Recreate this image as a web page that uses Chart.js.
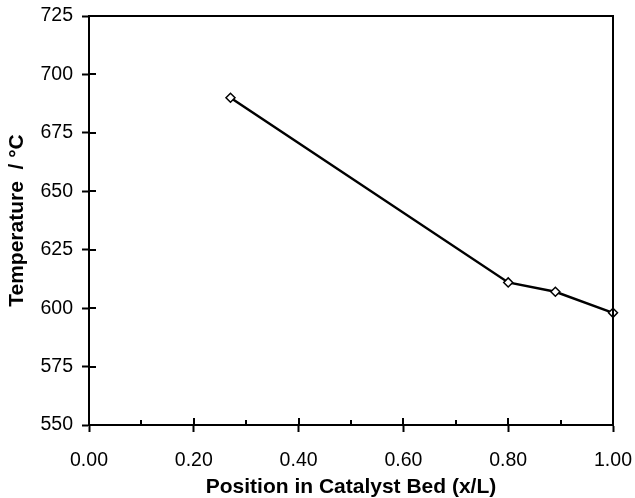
<!DOCTYPE html>
<html>
<head>
<meta charset="utf-8">
<script src="https://cdn.jsdelivr.net/npm/chart.js@4/dist/chart.umd.min.js"></script>
<style>
html,body{margin:0;padding:0;background:#fff;}
#wrap{width:635px;height:498px;position:relative;}
</style>
</head>
<body>
<div id="wrap"><canvas id="c" width="635" height="498"></canvas></div>
<script>
const positions = [0.27, 0.80, 0.89, 1.00];
const temperatures = [690, 611, 607, 598];
const xTitle = 'Position in Catalyst Bed (x/L)';
const yTitle = 'Temperature  / \u00B0C';

const FONT = "'Liberation Sans', Arial, Helvetica, sans-serif";

const frame = {
  id: 'frame',
  afterDraw(chart) {
    const {ctx, chartArea: a, scales: {x, y}} = chart;
    ctx.save();
    ctx.strokeStyle = '#000';
    ctx.lineWidth = 2;
    ctx.beginPath();
    ctx.moveTo(a.left, a.top); ctx.lineTo(a.right, a.top); ctx.lineTo(a.right, a.bottom);
    ctx.stroke();
    ctx.beginPath();
    y.ticks.forEach(t => {
      const py = Math.round(y.getPixelForValue(t.value));
      ctx.moveTo(a.left, py); ctx.lineTo(a.left + 7, py);
    });
    x.ticks.forEach(t => {
      const px = Math.round(x.getPixelForValue(t.value));
      const major = Math.abs(Math.round(t.value * 10) % 2) === 0;
      ctx.moveTo(px, a.bottom); ctx.lineTo(px, a.bottom - (major ? 7 : 5));
    });
    ctx.stroke();
    ctx.restore();
  }
};

new Chart(document.getElementById('c'), {
  type: 'scatter',
  data: {
    datasets: [{
      data: positions.map((p, i) => ({x: p, y: temperatures[i]})),
      showLine: true,
      clip: false,
      borderColor: '#000',
      borderWidth: 2.5,
      pointStyle: 'rectRot',
      pointRadius: 4.5,
      pointBackgroundColor: '#fff',
      pointBorderColor: '#000',
      pointBorderWidth: 1.5,
      tension: 0
    }]
  },
  options: {
    responsive: false,
    animation: false,
    devicePixelRatio: 1,
    layout: {padding: {top: 16, right: 22, left: 0, bottom: 0}},
    plugins: {legend: {display: false}, tooltip: {enabled: false}},
    scales: {
      x: {
        type: 'linear', min: 0, max: 1,
        afterFit(s) { s.height = 73; s.paddingLeft = 0; s.paddingRight = 0; },
        ticks: {
          stepSize: 0.1,
          color: '#000',
          font: {family: FONT, size: 19.5},
          padding: 17,
          maxRotation: 0,
          autoSkip: false,
          callback: v => (Math.round(v * 10) % 2 === 0 ? v.toFixed(2) : '')
        },
        grid: {
          drawOnChartArea: false,
          tickLength: 7,
          tickWidth: 2,
          tickColor: c => (Math.round(c.tick.value * 10) % 2 === 0 ? '#000' : 'rgba(0,0,0,0)')
        },
        border: {color: '#000', width: 2},
        title: {
          display: true, text: xTitle, color: '#000',
          font: {family: FONT, size: 21, weight: 'bold', lineHeight: 1},
          padding: {top: 0, bottom: 0}
        }
      },
      y: {
        min: 550, max: 725,
        afterFit(s) { s.width = 89; s.paddingTop = 0; s.paddingBottom = 0; },
        ticks: {
          stepSize: 25,
          color: '#000',
          font: {family: FONT, size: 19.5},
          padding: 9
        },
        grid: {drawOnChartArea: false, tickLength: 7, tickWidth: 2, tickColor: '#000'},
        border: {color: '#000', width: 2},
        title: {
          display: true, text: yTitle, color: '#000',
          font: {family: FONT, size: 21, weight: 'bold'},
          padding: {top: 5, bottom: 0}
        }
      }
    }
  },
  plugins: [frame]
});
</script>
</body>
</html>
